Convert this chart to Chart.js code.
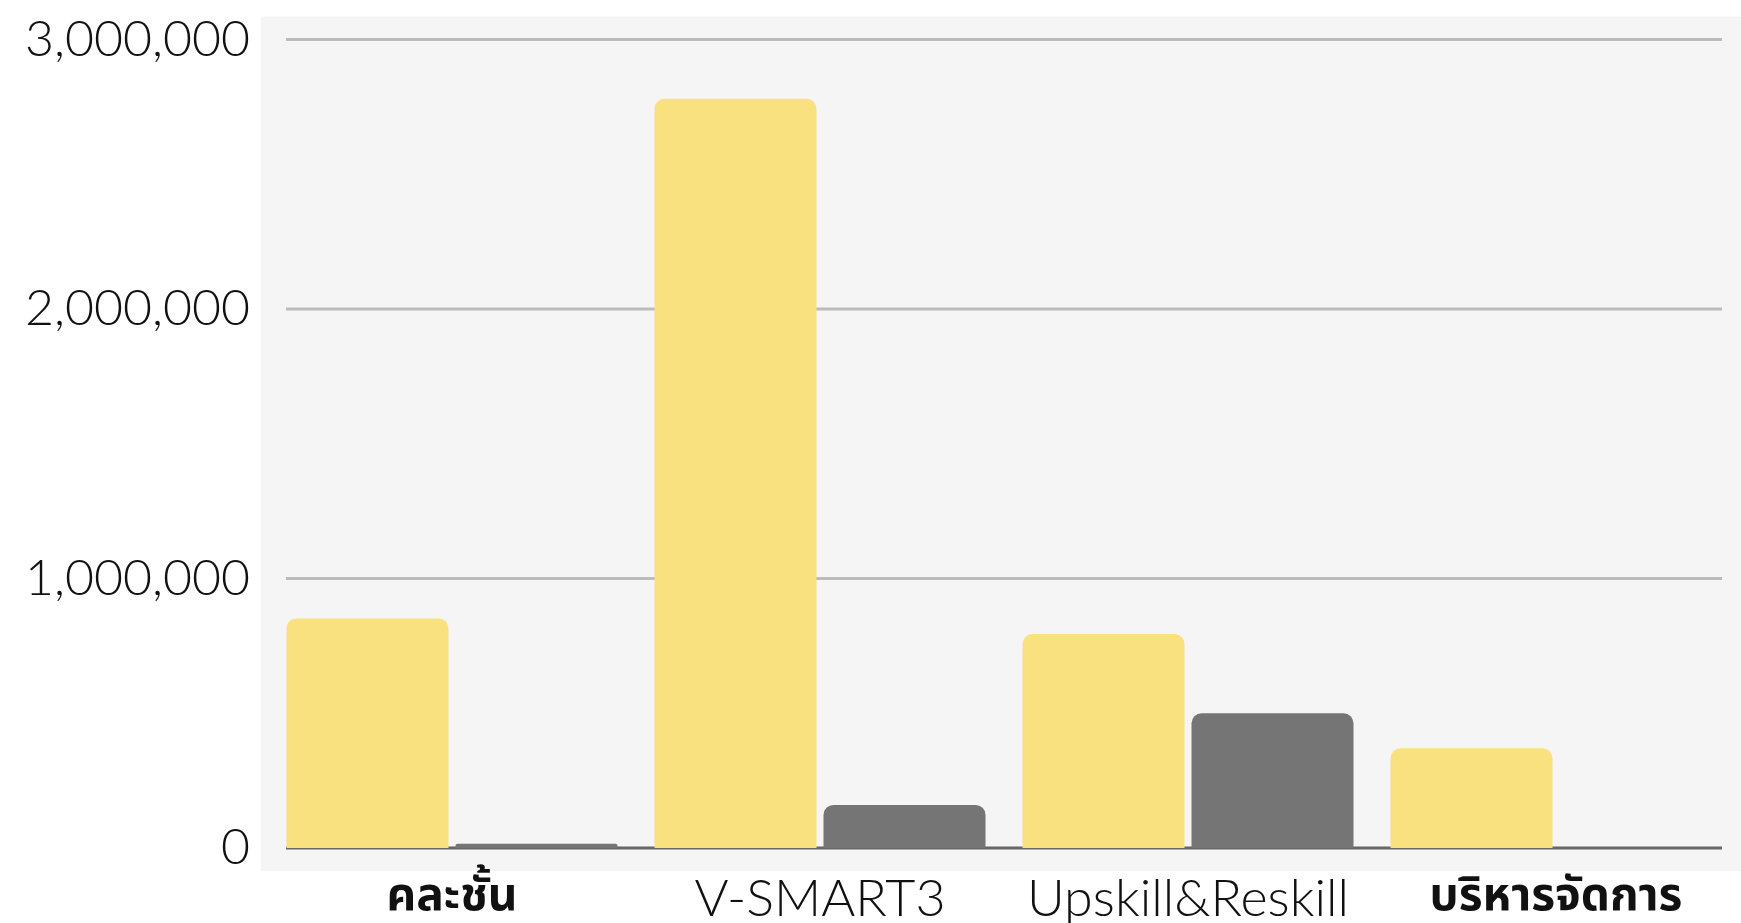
<!DOCTYPE html>
<html>
<head>
<meta charset="utf-8">
<script src="https://cdn.jsdelivr.net/npm/chart.js@4"></script>
<style>
  html, body { margin: 0; padding: 0; background: #ffffff; }
  canvas { display: block; }
</style>
</head>
<body>
<canvas id="chartBudget" width="1741" height="923"></canvas>
<script>
// ข้อมูลกราฟ
const categories = ['คละชั้น', 'V-SMART3', 'Upskill&Reskill', 'บริหารจัดการ'];
const seriesA = [852000, 2780000, 794000, 370000];   // แท่งสีเหลือง
const seriesB = [16000, 160000, 500000, 0];          // แท่งสีเทา
const yTicks = [0, 1000000, 2000000, 3000000];

const fontFamily = "Lato, 'Noto Sans Thai', 'Noto Sans', 'DejaVu Sans', sans-serif";
const isThai = s => /[\u0E00-\u0E7F]/.test(s);

// พื้นหลังพื้นที่กราฟ + เส้นกริด
const plotBg = {
  id: 'plotBg',
  beforeDraw(chart) {
    const { ctx, chartArea: a } = chart;
    ctx.save();
    ctx.fillStyle = '#f5f5f5';
    ctx.fillRect(a.left - 7, a.top - 23, a.right - a.left + 8, a.bottom - a.top + 46);
    ctx.restore();
  },
  beforeDatasetsDraw(chart) {
    const { ctx, chartArea: a, scales } = chart;
    ctx.save();
    ctx.lineWidth = 3;
    yTicks.forEach(v => {
      const y = scales.y.getPixelForValue(v);
      ctx.strokeStyle = v === 0 ? '#666666' : '#bbbbbb';
      ctx.beginPath();
      ctx.moveTo(a.left + 18, y);
      ctx.lineTo(a.right - 18, y);
      ctx.stroke();
    });
    ctx.restore();
  }
};

new Chart(document.getElementById('chartBudget').getContext('2d'), {
  type: 'bar',
  data: {
    labels: categories,
    datasets: [
      {
        label: 'A',
        data: seriesA,
        backgroundColor: '#f8e17e',
        borderRadius: 10,
        borderSkipped: 'start',
        categoryPercentage: 0.9185,
        barPercentage: 0.9586
      },
      {
        label: 'B',
        data: seriesB,
        backgroundColor: '#757575',
        borderRadius: 10,
        borderSkipped: 'start',
        categoryPercentage: 0.9185,
        barPercentage: 0.9586
      }
    ]
  },
  options: {
    responsive: false,
    animation: false,
    layout: { padding: { top: 0, right: 1, left: 0, bottom: 0 } },
    plugins: {
      legend: { display: false },
      tooltip: { enabled: false }
    },
    scales: {
      x: {
        grid: { display: false, drawTicks: false },
        border: { display: false },
        ticks: {
          color: '#111111',
          padding: 20,
          maxRotation: 0,
          font: ctx => {
            const thai = isThai(categories[ctx.index] || '');
            return { family: fontFamily, size: thai ? 46 : 52, weight: thai ? 'bold' : '300' };
          }
        },
        afterFit(scale) { scale.height = 75; }
      },
      y: {
        min: 0,
        max: 3000000,
        grid: { display: false, drawTicks: false },
        border: { display: false },
        ticks: {
          stepSize: 1000000,
          color: '#111111',
          padding: 18,
          font: { family: fontFamily, size: 50, weight: '300', lineHeight: 0.86 },
          callback: v => v.toLocaleString('en-US')
        },
        afterFit(scale) { scale.width = 268; }
      }
    }
  },
  plugins: [plotBg]
});
</script>
</body>
</html>
